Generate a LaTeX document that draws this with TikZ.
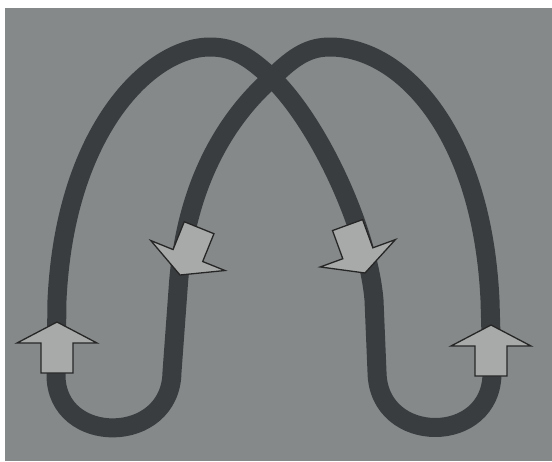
\documentclass[tikz,border=0pt]{standalone}
\usetikzlibrary{positioning}
\definecolor{panelgray}{RGB}{133,137,138}
\definecolor{loopgray}{RGB}{58,61,64}
\definecolor{arrowgray}{RGB}{168,170,170}
\begin{document}
\begin{tikzpicture}[x=1pt, y=-1pt,
	loop/.style={draw=loopgray, line width=19pt, line join=round},
	arrowbox/.style={draw=black!85, fill=arrowgray, line width=1.3pt},
	flowarrow/.pic={\path[arrowbox] (0,0) -- (40,21) -- (16,21) -- (16,51) -- (-16,51) -- (-16,21) -- (-40,21) -- cycle;}]
	\useasboundingbox (0,0) rectangle (552,461);
	\fill[panelgray] (5,8) rectangle (552,461);
	\coordinate (X) at (272,78);
	\draw[loop] (57,300) -- (56,375) .. controls (56,446) and (171,446) .. (172,372) -- (178,290) .. controls (185,180) and (230,115) .. (X) .. controls (295,55) and (310,47) .. (330,47) .. controls (400,47) and (482,130) .. (490,300) -- (492,372) .. controls (493,446) and (378,446) .. (377,372) -- (374,300) .. controls (368,230) and (320,125) .. (X) .. controls (250,58) and (235,47) .. (210,47) .. controls (150,47) and (65,130) .. (57,300) -- cycle;
	\pic at (57,322) {flowarrow};
	\pic at (491,325) {flowarrow};
	\pic[rotate=158] at (180,275) {flowarrow};
	\pic[rotate=200] at (365,273) {flowarrow};
\end{tikzpicture}
\end{document}
